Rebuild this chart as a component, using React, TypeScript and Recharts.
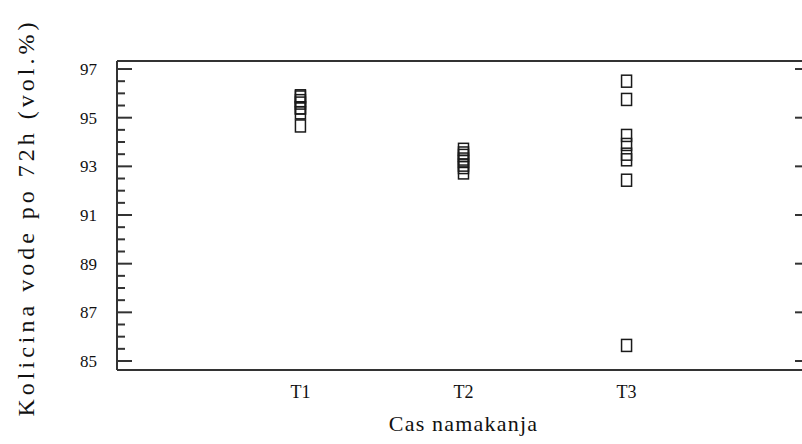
import React from 'react'
import { ScatterChart, Scatter, XAxis, YAxis, Label } from 'recharts'

// Skupine (čas namakanja)
const categories = ['T1', 'T2', 'T3']

// Količina vode po 72h (vol.%) za vsako skupino
const t1Values = [95.9, 95.85, 95.7, 95.6, 95.4, 95.4, 95.2, 94.66]
const t2Values = [93.7, 93.55, 93.45, 93.3, 93.2, 93.05, 92.95, 92.73]
const t3Values = [96.5, 95.75, 94.27, 93.9, 93.5, 93.27, 92.43, 85.64]

// Oznake na osi y
const yTicks = [
  85, 85.5, 86, 86.5, 87, 87.5, 88, 88.5, 89, 89.5, 90, 90.5, 91, 91.5, 92, 92.5, 93, 93.5, 94, 94.5, 95, 95.5,
  96, 96.5, 97,
]
const xTicks = [1, 2, 3]

const groups = [t1Values, t2Values, t3Values]
const points = groups.flatMap((vals, i) => vals.map((v) => ({ x: i + 1, y: v })))

const FONT = '"Liberation Serif", "Times New Roman", serif'
const INK = '#333'
const X_DOMAIN = [-0.125, 4.125]
const Y_DOMAIN = [84.63, 97.33]

const isMajor = (v: number) => Number.isInteger(v) && v % 2 === 1

// Leva os: oznaka + črtica navznoter
const LeftTick = ({ x, y, payload }: any) => {
  const major = isMajor(payload.value)
  return (
    <g>
      <line x1={x} x2={x + (major ? 15 : 8)} y1={y} y2={y} stroke={INK} strokeWidth={2} />
      {major && (
        <text x={x - 20} y={y} dy={6} textAnchor='end' fontFamily={FONT} fontSize={17} fill='#111'>
          {payload.value}
        </text>
      )}
    </g>
  )
}

// Desna os: samo črtice navznoter
const RightTick = ({ x, y, payload }: any) => {
  const major = isMajor(payload.value)
  return <line x1={x} x2={x - (major ? 15 : 8)} y1={y} y2={y} stroke={INK} strokeWidth={2} />
}

const BottomTick = ({ x, y, payload }: any) => (
  <text x={x} y={y + 28} textAnchor='middle' fontFamily={FONT} fontSize={18} fill='#111'>
    {categories[payload.value - 1]}
  </text>
)

// Kvadratek brez polnila
const SquareMarker = ({ cx, cy }: any) => (
  <rect x={cx - 5} y={cy - 6} width={10} height={12} fill='none' stroke='#1a1a1a' strokeWidth={1.5} />
)

const NoMarker = () => <g />

const App: React.FC = () => {
  return (
    <div
      style={{ position: 'absolute', left: 0, top: 0, width: 802, height: 444, overflow: 'hidden', background: '#fff' }}
    >
      <ScatterChart width={830} height={444} margin={{ top: 60, right: 19, bottom: 0, left: 0 }}>
        <XAxis
          xAxisId='top'
          orientation='top'
          type='number'
          dataKey='x'
          domain={X_DOMAIN}
          height={1}
          tick={false}
          tickLine={false}
          axisLine={{ stroke: INK, strokeWidth: 2 }}
        />
        <XAxis
          type='number'
          dataKey='x'
          domain={X_DOMAIN}
          ticks={xTicks}
          height={74}
          tickSize={0}
          tickMargin={0}
          tickLine={false}
          tick={<BottomTick />}
          axisLine={{ stroke: INK, strokeWidth: 2 }}
        >
          <Label
            value='Cas namakanja'
            position='insideBottom'
            offset={13}
            style={{ fontFamily: FONT, fontSize: 22, fill: '#111', letterSpacing: 1.2 }}
          />
        </XAxis>
        <YAxis
          type='number'
          dataKey='y'
          domain={Y_DOMAIN}
          ticks={yTicks}
          interval={0}
          width={117}
          tickSize={0}
          tickMargin={0}
          tickLine={false}
          tick={<LeftTick />}
          axisLine={{ stroke: INK, strokeWidth: 2 }}
          label={{
            content: ({ viewBox }: any) => (
              <text
                transform={`translate(${viewBox.x + 34}, ${viewBox.y + viewBox.height / 2 + 2}) rotate(-90)`}
                textAnchor='middle'
                fontFamily={FONT}
                fontSize={24}
                letterSpacing={4}
                fill='#111'
              >
                Kolicina vode po 72h (vol.%)
              </text>
            ),
          }}
        />
        <YAxis
          yAxisId='right'
          orientation='right'
          type='number'
          dataKey='y'
          domain={Y_DOMAIN}
          ticks={yTicks}
          interval={0}
          width={1}
          tickSize={0}
          tickMargin={0}
          tickLine={false}
          tick={<RightTick />}
          axisLine={{ stroke: INK, strokeWidth: 2 }}
        />
        <Scatter data={points} shape={<SquareMarker />} isAnimationActive={false} />
        {/* nevidna serija, da se narišeta zgornja in desna os */}
        <Scatter
          data={points}
          xAxisId='top'
          yAxisId='right'
          shape={<NoMarker />}
          isAnimationActive={false}
          legendType='none'
        />
      </ScatterChart>
    </div>
  )
}

export default App
